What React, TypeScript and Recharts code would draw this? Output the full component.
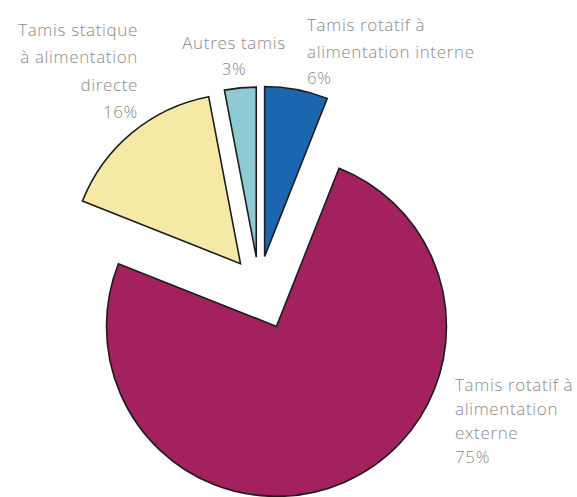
import React from "react";
import { PieChart, Pie, Cell } from "recharts";

// ---- data ----
const categories = [
  "Tamis rotatif à alimentation interne",
  "Tamis rotatif à alimentation externe",
  "Tamis statique à alimentation directe",
  "Autres tamis",
];
const values = [6, 75, 16, 3];
const labelLines = [
  ["Tamis rotatif à", "alimentation interne"],
  ["Tamis rotatif à", "alimentation", "externe"],
  ["Tamis statique", "à alimentation", "directe"],
  ["Autres tamis"],
];
const percentLabels = values.map((v) => `${v}%`);

// ---- styling / layout ----
const W = 577;
const H = 497;
const CX = 259;
const CY = 286;
const R = 170;
const COLORS = ["#1b66af", "#a3215f", "#f6e8a5", "#8ecad3"];
const EXPLODE = [30, 44, 29, 29];
const LABEL_POS = [
  { x: 307, y: 31, anchor: "start", gap: 26.5 },
  { x: 455, y: 391, anchor: "start", gap: 24 },
  { x: 138, y: 36, anchor: "end", gap: 27.3 },
  { x: 234, y: 49, anchor: "middle", gap: 26 },
];

const data = categories.map((name, i) => ({ name, value: values[i] }));
const total = values.reduce((a, b) => a + b, 0);

function centerFor(i: number) {
  const before = values.slice(0, i).reduce((a, b) => a + b, 0);
  const mid = ((before + values[i] / 2) / total) * 360;
  const rad = (mid * Math.PI) / 180;
  return {
    x: CX + EXPLODE[i] * Math.sin(rad),
    y: CY - EXPLODE[i] * Math.cos(rad),
  };
}

export default function App() {
  return (
    <div style={{ position: "absolute", left: 0, top: 0, width: W, height: H, background: "#fff" }}>
      <PieChart width={W} height={H} margin={{ top: 0, right: 0, bottom: 0, left: 0 }}>
        {data.map((_, k) => {
          const c = centerFor(k);
          return (
            <Pie
              key={k}
              data={data}
              dataKey="value"
              nameKey="name"
              cx={c.x}
              cy={c.y}
              innerRadius={0}
              outerRadius={R}
              startAngle={90}
              endAngle={-270}
              paddingAngle={0}
              isAnimationActive={false}
              legendType="none"
              stroke="none"
            >
              {data.map((d, i) => (
                <Cell
                  key={i}
                  fill={i === k ? COLORS[i] : "none"}
                  stroke={i === k ? "#1d1d1d" : "none"}
                  strokeWidth={i === k ? 1.6 : 0}
                />
              ))}
            </Pie>
          );
        })}
      </PieChart>
      <svg
        width={W}
        height={H}
        style={{ position: "absolute", left: 0, top: 0, pointerEvents: "none" }}
      >
        {labelLines.map((lines, i) => {
          const p = LABEL_POS[i];
          const all = [...lines, percentLabels[i]];
          return (
            <text
              key={i}
              textAnchor={p.anchor as any}
              fontFamily="'Open Sans', 'DejaVu Sans', sans-serif"
              fontWeight={300}
              fontSize={17}
              letterSpacing={0.65}
              fill="#8a8a8a"
            >
              {all.map((t, j) => (
                <tspan key={j} x={p.x} y={p.y + j * p.gap}>
                  {t}
                </tspan>
              ))}
            </text>
          );
        })}
      </svg>
    </div>
  );
}
